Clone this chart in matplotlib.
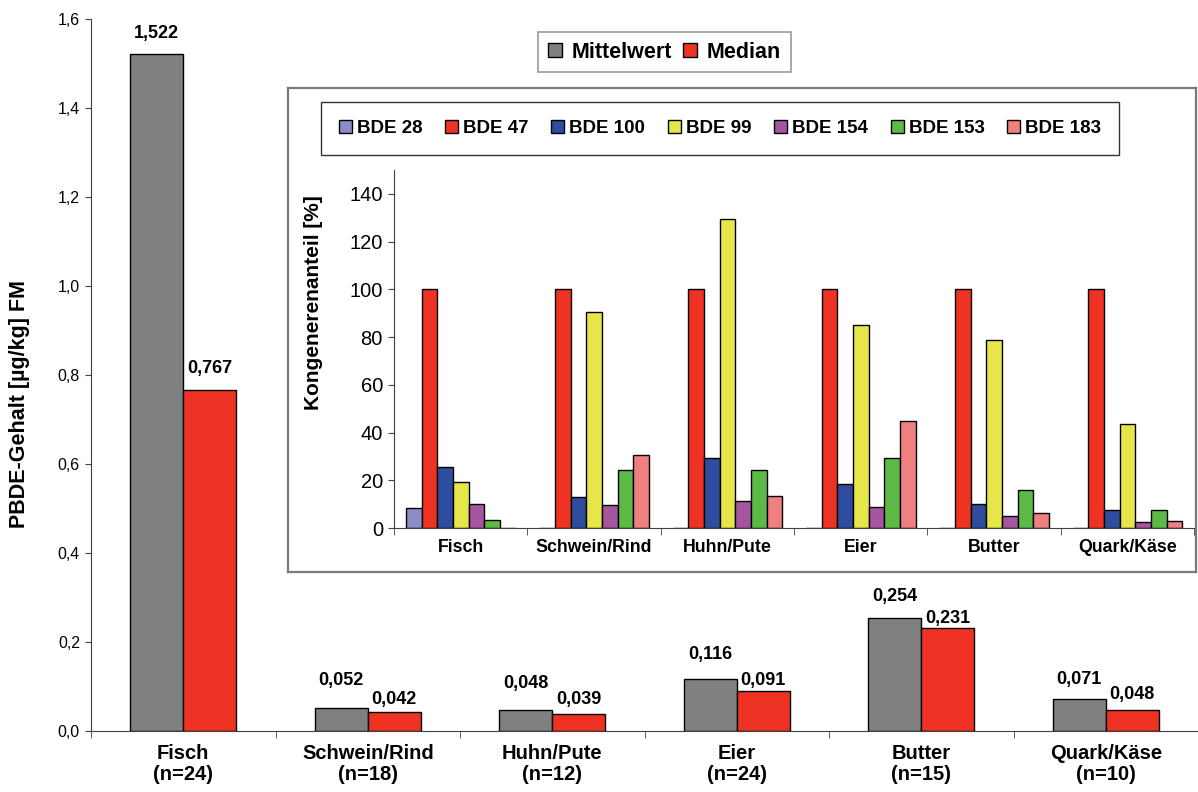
import numpy as np
import matplotlib
matplotlib.use('Agg')
import matplotlib.pyplot as plt
from matplotlib.patches import Patch
from matplotlib.ticker import FixedLocator, FuncFormatter

plt.rcParams['font.family'] = ['Liberation Sans', 'DejaVu Sans']

# PBDE-Gehalt je Lebensmittelgruppe
categories = ['Fisch', 'Schwein/Rind', 'Huhn/Pute', 'Eier', 'Butter', 'Quark/Käse']
n_samples = [24, 18, 12, 24, 15, 10]
mittelwert = [1.522, 0.052, 0.048, 0.116, 0.254, 0.071]
median = [0.767, 0.042, 0.039, 0.091, 0.231, 0.048]

# Kongenerenanteil in % (bezogen auf BDE 47)
congeners = ['BDE 28', 'BDE 47', 'BDE 100', 'BDE 99', 'BDE 154', 'BDE 153', 'BDE 183']
bde28 = [8.4, 0, 0, 0, 0, 0]
bde47 = [100, 100, 100, 100, 100, 100]
bde100 = [25.7, 13.0, 29.5, 18.6, 10.2, 7.7]
bde99 = [19.1, 90.5, 129.5, 85.0, 78.8, 43.6]
bde154 = [10.2, 9.6, 11.5, 8.9, 5.2, 2.5]
bde153 = [3.2, 24.3, 24.3, 29.5, 15.9, 7.7]
bde183 = [0, 30.7, 13.6, 45.0, 6.4, 3.1]

GREY = '#808080'
RED = '#EE3224'
congener_colors = ['#8C8CC6', RED, '#2F4C9E', '#E6E64A', '#A656A0', '#5DBA46', '#F08080']

comma = FuncFormatter(lambda v, pos: f'{v:.1f}'.replace('.', ','))
axis_col = '#404040'

fig = plt.figure(figsize=(11.98, 7.92), dpi=100)

# ---- main chart ----
ax = fig.add_axes([0.076, 0.077, 0.924, 0.899])
x = np.arange(len(categories))
w = 0.287
ax.bar(x - w / 2, mittelwert, w, color=GREY, edgecolor='black', linewidth=1.0, label='Mittelwert')
ax.bar(x + w / 2, median, w, color=RED, edgecolor='black', linewidth=1.0, label='Median')

# label offsets above the bars (points)
grey_off = [16, 23, 22, 20, 17, 15]
red_off = [17, 8, 10, 6, 5, 11]
for i in range(len(categories)):
    ax.annotate(f'{mittelwert[i]:.3f}'.replace('.', ','), (x[i] - w / 2, mittelwert[i]),
                xytext=(0, grey_off[i] * 0.72), textcoords='offset points',
                ha='center', va='baseline', fontsize=13, fontweight='bold')
    ax.annotate(f'{median[i]:.3f}'.replace('.', ','), (x[i] + w / 2, median[i]),
                xytext=(0, red_off[i] * 0.72), textcoords='offset points',
                ha='center', va='baseline', fontsize=13, fontweight='bold')

ax.set_xlim(-0.5, len(categories) - 0.5)
ax.set_ylim(0, 1.6)
ax.set_yticks(np.arange(0, 1.61, 0.2))
ax.yaxis.set_major_formatter(comma)
ax.set_xticks(x)
ax.set_xticklabels([f'{c}\n(n={n})' for c, n in zip(categories, n_samples)],
                   fontsize=14.5, fontweight='bold', linespacing=1.15)
ax.xaxis.set_minor_locator(FixedLocator(np.arange(-0.5, len(categories), 1.0)))
ax.tick_params(axis='x', which='major', length=0, pad=9)
ax.tick_params(axis='x', which='minor', length=5, color=axis_col, direction='out')
ax.tick_params(axis='y', length=4, color=axis_col, labelsize=11.5, pad=4)
for s in ['top', 'right']:
    ax.spines[s].set_visible(False)
for s in ['left', 'bottom']:
    ax.spines[s].set_color(axis_col)
ax.set_ylabel('PBDE-Gehalt [µg/kg] FM', fontsize=15.5, fontweight='bold', va='center')
ax.yaxis.set_label_coords(-0.065, 0.459)

leg = ax.legend(loc='center', bbox_to_anchor=(0.5547, 0.9343), bbox_transform=fig.transFigure,
                ncol=2, frameon=True, fancybox=False, edgecolor=GREY,
                prop={'weight': 'bold', 'size': 15.5}, handlelength=0.65, handleheight=0.65,
                handletextpad=0.45, columnspacing=0.5, borderpad=0.45)
leg.get_frame().set_linewidth(1.2)

# ---- inset: congener pattern ----
box = fig.add_axes([0.2404, 0.2778, 0.758, 0.6111])
box.set_xticks([])
box.set_yticks([])
for s in box.spines.values():
    s.set_color('#7a7a7a')
    s.set_linewidth(1.6)

ins = fig.add_axes([0.3289, 0.3333, 0.6678, 0.452])
ins.patch.set_alpha(0)
series = [bde28, bde47, bde100, bde99, bde154, bde153, bde183]
bw = 0.1175
for k, (vals, col, name) in enumerate(zip(series, congener_colors, congeners)):
    ins.bar(x + (k - 3) * bw, vals, bw, color=col, edgecolor='black', linewidth=1.0, label=name)

ins.set_xlim(-0.5, len(categories) - 0.5)
ins.set_ylim(0, 150)
ins.set_yticks(np.arange(0, 141, 20))
ins.set_xticks(x)
ins.set_xticklabels(categories, fontsize=12.8, fontweight='bold')
ins.xaxis.set_minor_locator(FixedLocator(np.arange(-0.5, len(categories), 1.0)))
ins.tick_params(axis='x', which='major', length=0, pad=8)
ins.tick_params(axis='x', which='minor', length=5, color=axis_col, direction='out')
ins.tick_params(axis='y', length=4, color=axis_col, labelsize=14.5, pad=4)
for s in ['top', 'right']:
    ins.spines[s].set_visible(False)
for s in ['left', 'bottom']:
    ins.spines[s].set_color(axis_col)
ins.set_ylabel('Kongenerenanteil [%]', fontsize=15, fontweight='bold', va='center')
ins.yaxis.set_label_coords(-0.101, 0.631)

handles = [Patch(facecolor=c, edgecolor='black', linewidth=1.0) for c in congener_colors]
ileg = ins.legend(handles, congeners, loc='center', bbox_to_anchor=(0.601, 0.8378),
                  bbox_transform=fig.transFigure, ncol=7, frameon=True, fancybox=False,
                  edgecolor='black', prop={'weight': 'bold', 'size': 13.5},
                  handlelength=0.7, handleheight=0.7, handletextpad=0.27,
                  columnspacing=1.2, borderpad=0.95)
ileg.get_frame().set_linewidth(1.0)

fig.savefig('out.png', dpi=100)
